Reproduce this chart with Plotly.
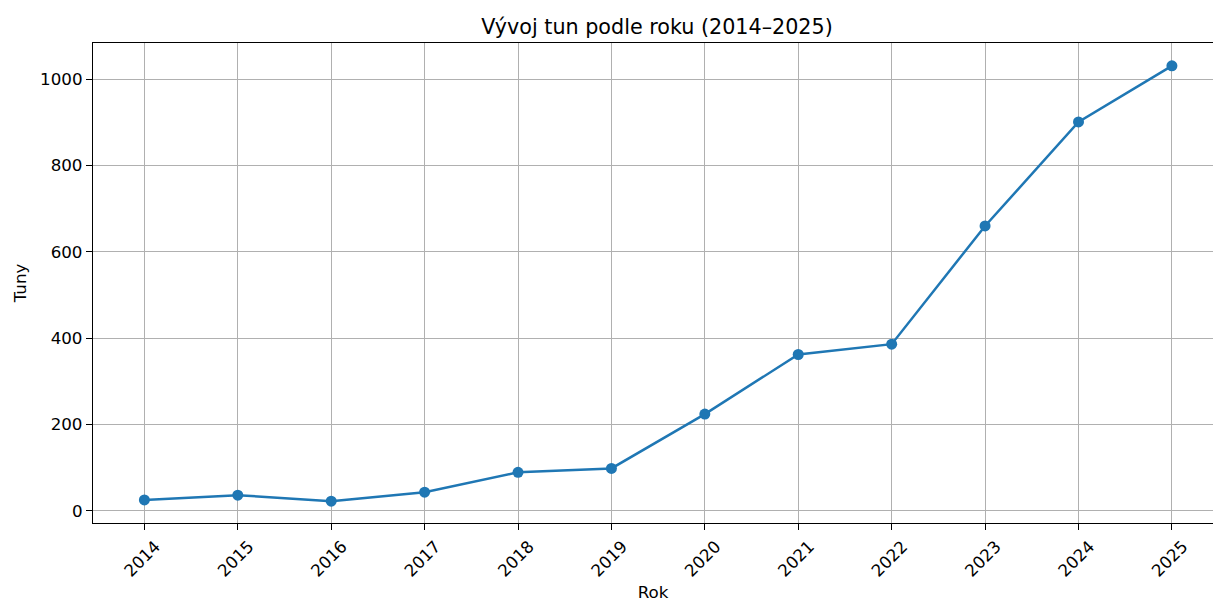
import plotly.graph_objects as go

years = [2014, 2015, 2016, 2017, 2018, 2019, 2020, 2021, 2022, 2023, 2024, 2025]
tons = [25, 36, 22, 43, 89, 98, 224, 362, 386, 660, 901, 1031]
y_ticks = [0, 200, 400, 600, 800, 1000]

FONT = "DejaVu Sans"
W, H = 1213, 602
L, T, B = 93, 43, 602 - 523

fig = go.Figure()
fig.add_trace(go.Scatter(
    x=years, y=tons, mode="lines+markers",
    line=dict(color="#1f77b4", width=2.5),
    marker=dict(color="#1f77b4", size=11),
    showlegend=False,
))

fig.update_layout(
    width=W, height=H,
    margin=dict(l=L, r=0, t=T, b=B, autoexpand=False),
    paper_bgcolor="white", plot_bgcolor="white",
    font=dict(family=FONT, size=16.7, color="black"),
    title=dict(text="Vývoj tun podle roku (2014–2025)", x=657 / W,
               xanchor="center", y=1 - 27 / H, yanchor="middle",
               font=dict(family=FONT, size=20.7, color="black")),
)
fig.update_xaxes(
    range=[2013.45, 2025.44],
    tickmode="array", tickvals=years, ticktext=[str(y) for y in years],
    tickangle=-45, ticks="outside", ticklen=6, tickwidth=1.3, tickcolor="black",
    ticklabelshift=11,
    showgrid=True, gridcolor="#b0b0b0", gridwidth=1.3,
    showline=True, linecolor="black", linewidth=1.3, mirror=True,
    zeroline=False,
    tickfont=dict(family=FONT, size=16.7, color="black"),
    title=dict(text="Rok", font=dict(family=FONT, size=16.7, color="black"), standoff=8),
)
fig.update_yaxes(
    range=[-28.5, 1084],
    tickmode="array", tickvals=y_ticks, ticktext=[str(v) for v in y_ticks],
    ticks="outside", ticklen=6, tickwidth=1.3, tickcolor="black",
    showgrid=True, gridcolor="#b0b0b0", gridwidth=1.3,
    showline=True, linecolor="black", linewidth=1.3, mirror=False,
    zeroline=False,
    tickfont=dict(family=FONT, size=16.7, color="black"),
    title=dict(text="Tuny", font=dict(family=FONT, size=16.7, color="black"), standoff=9),
)

fig.write_html(
    "out.html",
    config={"displayModeBar": False},
    post_script="document.body.style.margin='0';document.body.style.overflow='hidden';",
)
